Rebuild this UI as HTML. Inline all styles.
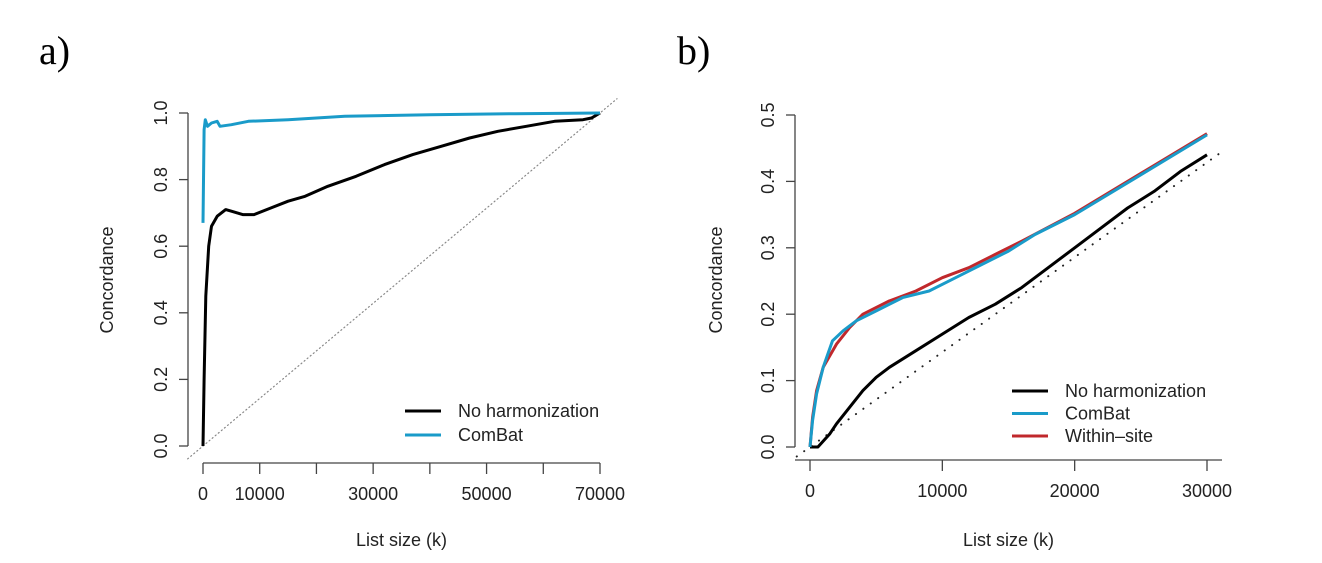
<!DOCTYPE html>
<html><head><meta charset="utf-8"><style>
html,body{margin:0;padding:0;background:#fff;}
svg{display:block;font-family:"Liberation Sans",sans-serif;}
</style></head><body>
<svg id="fig" width="1322" height="563" viewBox="0 0 1322 563" xmlns="http://www.w3.org/2000/svg">
<text x="39" y="64" font-family="Liberation Serif, serif" font-size="40">a)</text>
<text x="677" y="64" font-family="Liberation Serif, serif" font-size="40">b)</text>
<g id="pa"></g>
<g id="pb"></g>
</svg>
<script>
// Panel a data
const aNoHarmX=[0,200,500,1000,1500,2500,4000,5000,7000,9000,12000,15000,18000,22000,27000,32000,37000,42000,47000,52000,57000,62000,67000,68500,70000];
const aNoHarmY=[0,0.2,0.45,0.6,0.66,0.69,0.71,0.705,0.695,0.695,0.715,0.735,0.75,0.78,0.81,0.845,0.875,0.9,0.925,0.945,0.96,0.975,0.98,0.985,1.0];
const aCombatX=[0,200,400,800,1500,2500,3000,5000,8000,15000,25000,40000,55000,70000];
const aCombatY=[0.67,0.95,0.98,0.96,0.97,0.975,0.96,0.965,0.975,0.98,0.99,0.995,0.998,1.0];
const aXTicks=[0,10000,20000,30000,40000,50000,60000,70000];
const aXLabels=["0","10000","","30000","","50000","","70000"];
const aYTicks=[0,0.2,0.4,0.6,0.8,1.0];
const aYLabels=["0.0","0.2","0.4","0.6","0.8","1.0"];
// Panel b data
const bNoHarmX=[0,600,1500,2000,3000,4000,5000,6000,8000,10000,12000,14000,16000,18000,20000,22000,24000,26000,28000,30000];
const bNoHarmY=[0,0,0.02,0.035,0.06,0.085,0.105,0.12,0.145,0.17,0.195,0.215,0.24,0.27,0.3,0.33,0.36,0.385,0.415,0.44];
const bCombatX=[0,200,500,1000,1700,2500,3500,5000,7000,9000,11000,13000,15000,17000,20000,25000,30000];
const bCombatY=[0,0.04,0.08,0.12,0.16,0.175,0.19,0.205,0.225,0.235,0.255,0.275,0.295,0.32,0.35,0.41,0.47];
const bWithinX=[0,200,500,1000,2000,3000,4000,6000,8000,10000,12000,14000,16000,20000,25000,30000];
const bWithinY=[0,0.045,0.085,0.12,0.155,0.18,0.2,0.22,0.235,0.255,0.27,0.29,0.31,0.352,0.412,0.472];
const bXTicks=[0,10000,20000,30000];
const bXLabels=["0","10000","20000","30000"];
const bYTicks=[0,0.1,0.2,0.3,0.4,0.5];
const bYLabels=["0.0","0.1","0.2","0.3","0.4","0.5"];

const NS="http://www.w3.org/2000/svg";
function mk(p,t,a){const e=document.createElementNS(NS,t);for(const k in a)e.setAttribute(k,a[k]);p.appendChild(e);return e;}
function panel(g,o){
  const sx=v=>o.x0+(v-o.xmin)/(o.xmax-o.xmin)*(o.x1-o.x0);
  const sy=v=>o.y0-(v-o.ymin)/(o.ymax-o.ymin)*(o.y0-o.y1);
  const d=mk(g,'line',{x1:sx(o.dx0),y1:sy(o.dx0/70000),x2:sx(o.dx1),y2:sy(o.dx1/70000),stroke:o.dcol,'stroke-width':o.dw,'stroke-dasharray':o.dash,'stroke-linecap':'round'});
  
  
  const ya=mk(g,'line',{x1:o.yax,y1:sy(o.ymin),x2:o.yax,y2:sy(o.ymax),stroke:'#444','stroke-width':1.3});
  
  
  o.yt.forEach((v,i)=>{
    mk(g,'line',{x1:o.yax-9,y1:sy(v),x2:o.yax,y2:sy(v),stroke:'#444','stroke-width':1.3});
    const t=mk(g,'text',{x:0,y:0,transform:`translate(${o.yax-21},${sy(v)}) rotate(-90)`,'text-anchor':'middle','font-size':18,fill:'#222'});
    t.textContent=o.yl[i];
    
    
  });
  const xa=mk(g,'line',{x1:o.xal0,y1:o.xay,x2:o.xal1,y2:o.xay,stroke:'#444','stroke-width':1.3});
  
  
  o.xt.forEach((v,i)=>{
    mk(g,'line',{x1:sx(v),y1:o.xay,x2:sx(v),y2:o.xay+11,stroke:'#444','stroke-width':1.3});
    if(o.xl[i]){const t=mk(g,'text',{x:sx(v),y:o.xay+37,'text-anchor':'middle','font-size':18,fill:'#222'});
    t.textContent=o.xl[i];
    
    }
  });
  const xt=mk(g,'text',{x:(o.xal0+o.xal1)/2+o.xlo,y:546,'text-anchor':'middle','font-size':18,fill:'#222'});
  xt.textContent='List size (k)';
  
  
  const yt=mk(g,'text',{transform:`translate(${o.ylx},${o.yly}) rotate(-90)`,'text-anchor':'middle','font-size':18,fill:'#222'});
  yt.textContent='Concordance';
  
  
  o.drawOrder.forEach(idx=>{
    const s=o.series[idx];
    const pts=s.x.map((v,i)=>sx(v).toFixed(1)+','+sy(s.y[i]).toFixed(1)).join(' ');
    const p=mk(g,'polyline',{points:pts,fill:'none',stroke:s.c,'stroke-width':3,'stroke-linejoin':'round'});
    
    
  });
  o.series.forEach((s,i)=>{
    const y=o.legy+i*o.legdy;
    const l=mk(g,'line',{x1:o.legx,y1:y,x2:o.legx+36,y2:y,stroke:s.c,'stroke-width':3});
    
    
    const t=mk(g,'text',{x:o.legx+53,y:y+6,'font-size':18,fill:'#222'});
    t.textContent=s.label;
    
    
  });
}
panel(document.getElementById('pa'),{xmin:0,xmax:70000,x0:203,x1:600,ymin:0,ymax:1,y0:446,y1:113,
  yax:188,xay:463,xal0:203,xal1:600,xt:aXTicks,xl:aXLabels,yt:aYTicks,yl:aYLabels,xlo:0,ylx:113,yly:280,
  dx0:-2700,dx1:73000,dcol:'#888',dw:1.2,dash:'1 3',
  series:[{x:aNoHarmX,y:aNoHarmY,c:'#000',n:'line-no-harmonization',label:'No harmonization'},
          {x:aCombatX,y:aCombatY,c:'#1a9bc9',n:'line-combat',label:'ComBat'}],
  drawOrder:[0,1],
  legx:405,legy:411,legdy:24});
panel(document.getElementById('pb'),{xmin:0,xmax:30000,x0:810,x1:1207,ymin:0,ymax:0.5,y0:447,y1:115,
  yax:795,xay:460,xal0:795,xal1:1222,xt:bXTicks,xl:bXLabels,yt:bYTicks,yl:bYLabels,xlo:0,ylx:722,yly:280,
  dx0:-1000,dx1:31000,dcol:'#222',dw:2,dash:'0.1 9',
  series:[{x:bNoHarmX,y:bNoHarmY,c:'#000',n:'line-no-harmonization',label:'No harmonization'},
          {x:bCombatX,y:bCombatY,c:'#1a9bc9',n:'line-combat',label:'ComBat'},
          {x:bWithinX,y:bWithinY,c:'#c0282c',n:'line-within-site',label:'Within\u2013site'}],
  drawOrder:[0,2,1],
  legx:1012,legy:391,legdy:22.5});
</script>
</body></html>
